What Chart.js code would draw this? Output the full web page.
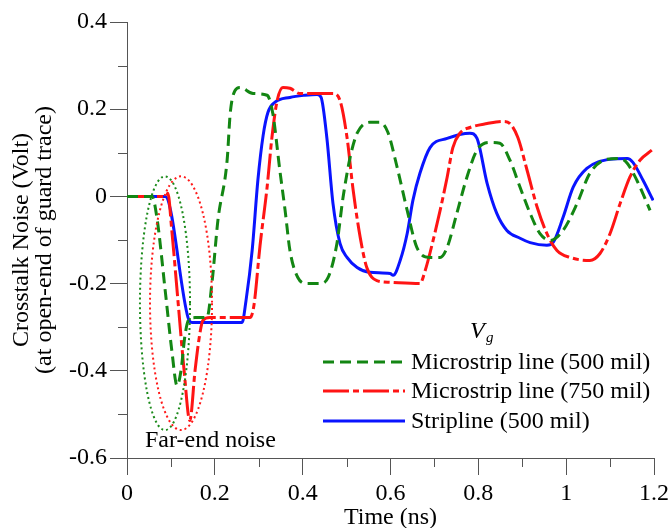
<!DOCTYPE html>
<html>
<head>
<meta charset="utf-8">
<script src="https://cdn.jsdelivr.net/npm/chart.js@4.4.1/dist/chart.umd.min.js"></script>
<style>
  html, body { margin: 0; padding: 0; background: #ffffff; }
  #wrap { width: 670px; height: 528px; position: relative; }
</style>
</head>
<body>
<div id="wrap"><canvas id="c" width="670" height="528"></canvas></div>
<script>
// Crosstalk noise at the open end of the guard trace (volts vs. ns)

// Microstrip line, 500 mil guard trace
const ms500Time = [0, 0.057, 0.068, 0.087, 0.102, 0.114, 0.123, 0.132, 0.141, 0.155, 0.182, 0.194, 0.207, 0.228, 0.235, 0.246, 0.257, 0.287, 0.319, 0.332, 0.348, 0.360, 0.371, 0.389, 0.410, 0.439, 0.458, 0.478, 0.492, 0.508, 0.524, 0.553, 0.576, 0.594, 0.615, 0.638, 0.660, 0.690, 0.713, 0.729, 0.751, 0.774, 0.797, 0.827, 0.849, 0.872, 0.895, 0.918, 0.940, 0.963, 0.993, 1.025, 1.054, 1.093, 1.123, 1.139, 1.161, 1.191];
const ms500Volt = [0, 0, -0.048, -0.216, -0.353, -0.434, -0.399, -0.319, -0.282, -0.278, -0.278, -0.193, -0.055, 0.083, 0.190, 0.243, 0.250, 0.236, 0.232, 0.190, 0.060, -0.032, -0.124, -0.186, -0.200, -0.200, -0.186, -0.108, -0.002, 0.089, 0.145, 0.170, 0.170, 0.147, 0.067, -0.032, -0.117, -0.140, -0.140, -0.117, -0.039, 0.044, 0.106, 0.124, 0.122, 0.083, 0.021, -0.039, -0.085, -0.101, -0.078, -0.016, 0.053, 0.085, 0.087, 0.076, 0.037, -0.032];

// Microstrip line, 750 mil guard trace
const ms750Time = [0, 0.089, 0.093, 0.102, 0.116, 0.130, 0.143, 0.155, 0.166, 0.173, 0.189, 0.280, 0.289, 0.303, 0.319, 0.330, 0.342, 0.355, 0.371, 0.394, 0.469, 0.485, 0.501, 0.515, 0.531, 0.546, 0.569, 0.599, 0.667, 0.679, 0.697, 0.713, 0.729, 0.742, 0.758, 0.781, 0.820, 0.856, 0.872, 0.890, 0.911, 0.934, 0.956, 0.979, 1.009, 1.054, 1.077, 1.100, 1.123, 1.145, 1.168, 1.195];
const ms750Volt = [0, 0, 0.007, -0.078, -0.239, -0.399, -0.514, -0.399, -0.314, -0.284, -0.278, -0.278, -0.250, -0.112, 0.021, 0.135, 0.220, 0.250, 0.248, 0.236, 0.236, 0.220, 0.135, 0.014, -0.094, -0.163, -0.193, -0.197, -0.200, -0.170, -0.101, -0.032, 0.044, 0.112, 0.145, 0.158, 0.167, 0.172, 0.167, 0.135, 0.060, -0.025, -0.085, -0.124, -0.140, -0.147, -0.131, -0.085, -0.016, 0.044, 0.083, 0.106];

// Stripline, 500 mil guard trace
const stripTime = [0, 0.087, 0.139, 0.148, 0.262, 0.271, 0.285, 0.298, 0.310, 0.321, 0.337, 0.371, 0.405, 0.433, 0.442, 0.455, 0.469, 0.485, 0.501, 0.524, 0.553, 0.599, 0.606, 0.622, 0.638, 0.651, 0.667, 0.690, 0.729, 0.781, 0.797, 0.820, 0.842, 0.865, 0.895, 0.918, 0.956, 0.970, 0.993, 1.016, 1.047, 1.100, 1.139, 1.152, 1.175, 1.198];
const stripVolt = [0, 0, -0.278, -0.289, -0.289, -0.239, -0.124, 0.037, 0.140, 0.193, 0.216, 0.227, 0.232, 0.234, 0.227, 0.135, -0.016, -0.108, -0.140, -0.163, -0.174, -0.177, -0.181, -0.147, -0.085, -0.009, 0.053, 0.112, 0.133, 0.145, 0.133, 0.030, -0.039, -0.078, -0.096, -0.106, -0.112, -0.106, -0.048, 0.021, 0.064, 0.085, 0.087, 0.078, 0.037, -0.009];

const seriesNames = ['Microstrip line (500 mil)', 'Microstrip line (750 mil)', 'Stripline (500 mil)'];

// Axis ticks (major ones carry labels)
const xMajorTicks = [0, 0.2, 0.4, 0.6, 0.8, 1, 1.2];
const xMinorTicks = [0.1, 0.3, 0.5, 0.7, 0.9, 1.1];
const yMajorTicks = [-0.6, -0.4, -0.2, 0, 0.2, 0.4];
const yMinorTicks = [-0.5, -0.3, -0.1, 0.1, 0.3];
const xTickLabels = ['0', '0.2', '0.4', '0.6', '0.8', '1', '1.2'];
const yTickLabels = ['-0.6', '-0.4', '-0.2', '0', '0.2', '0.4'];

// Far-end noise regions marked with dotted ellipses (data units)
const farEndRings = [
  { t: 0.0865, v: -0.245, rt: 0.057, rv: 0.291, color: '#1a8a1a' },
  { t: 0.123,  v: -0.245, rt: 0.0706, rv: 0.291, color: '#ff1a1a' }
];

const FONT = "'Liberation Serif', 'Times New Roman', serif";
const AXIS_COLOR = '#555555';

function zip(ts, vs) { return ts.map((t, i) => ({ x: t, y: vs[i] })); }

const styles = [
  { color: '#138613', dash: [11, 6] },
  { color: '#ff1414', dash: [26, 4, 6, 4] },
  { color: '#0a14ff', dash: [] }
];

const datasets = [
  zip(ms500Time, ms500Volt),
  zip(ms750Time, ms750Volt),
  zip(stripTime, stripVolt)
].map((pts, i) => ({
  label: seriesNames[i],
  data: pts,
  borderColor: styles[i].color,
  borderDash: styles[i].dash,
  borderWidth: 3,
  pointRadius: 0,
  fill: false,
  cubicInterpolationMode: 'monotone'
}));

function labelFor(list, labels, v) {
  const idx = list.findIndex(m => Math.abs(m - v) < 1e-6);
  return idx >= 0 ? labels[idx] : '';
}

const decor = {
  id: 'decor',
  afterDatasetsDraw(chart) {
    const { ctx, scales: { x, y } } = chart;
    ctx.save();
    farEndRings.forEach(r => {
      const cx = x.getPixelForValue(r.t);
      const cy = y.getPixelForValue(r.v);
      const rx = Math.abs(x.getPixelForValue(r.t + r.rt) - cx);
      const ry = Math.abs(y.getPixelForValue(r.v + r.rv) - cy);
      ctx.beginPath();
      ctx.ellipse(cx, cy, rx, ry, 0, 0, Math.PI * 2);
      ctx.strokeStyle = r.color;
      ctx.lineWidth = 2;
      ctx.setLineDash([2, 3]);
      ctx.stroke();
    });
    ctx.restore();
  },
  afterDraw(chart) {
    const { ctx, scales: { x, y }, chartArea } = chart;
    ctx.save();
    // minor ticks
    ctx.strokeStyle = AXIS_COLOR;
    ctx.lineWidth = 1;
    ctx.setLineDash([]);
    ctx.beginPath();
    yMinorTicks.forEach(v => {
      const py = Math.round(y.getPixelForValue(v)) + 0.5;
      ctx.moveTo(chartArea.left - 9, py);
      ctx.lineTo(chartArea.left, py);
    });
    xMinorTicks.forEach(t => {
      const px = Math.round(x.getPixelForValue(t)) + 0.5;
      ctx.moveTo(px, chartArea.bottom);
      ctx.lineTo(px, chartArea.bottom + 9);
    });
    ctx.stroke();

    // legend
    ctx.fillStyle = '#000';
    ctx.textBaseline = 'middle';
    ctx.font = `italic 24px ${FONT}`;
    ctx.fillText('V', 470, 332);
    ctx.font = `italic 15px ${FONT}`;
    ctx.fillText('g', 486, 338);

    const rowY = [362, 391, 421];
    chart.data.datasets.forEach((ds, i) => {
      ctx.beginPath();
      ctx.strokeStyle = ds.borderColor;
      ctx.lineWidth = 3;
      ctx.setLineDash(ds.borderDash);
      ctx.moveTo(323, rowY[i]);
      ctx.lineTo(405, rowY[i]);
      ctx.stroke();
      ctx.setLineDash([]);
      ctx.font = `24px ${FONT}`;
      ctx.fillStyle = '#000';
      ctx.fillText(ds.label, 411, rowY[i] + 1);
    });

    ctx.font = `24px ${FONT}`;
    ctx.fillText('Far-end noise', 145, 441);
    ctx.restore();
  }
};

new Chart(document.getElementById('c'), {
  type: 'line',
  data: { datasets },
  plugins: [decor],
  options: {
    responsive: false,
    animation: false,
    devicePixelRatio: 1,
    layout: { padding: { left: 0, right: 16, top: 22, bottom: 0 } },
    plugins: { legend: { display: false }, tooltip: { enabled: false } },
    scales: {
      x: {
        type: 'linear',
        min: 0, max: 1.2,
        afterFit(scale) { scale.height = 70; scale.paddingLeft = 0; scale.paddingRight = 0; },
        afterBuildTicks(scale) { scale.ticks = xMajorTicks.map(v => ({ value: v })); },
        ticks: {
          autoSkip: false, maxRotation: 0, padding: 4,
          color: '#000', font: { family: FONT, size: 24 },
          callback: v => labelFor(xMajorTicks, xTickLabels, v)
        },
        grid: { display: true, drawOnChartArea: false, drawTicks: true, tickLength: 17, tickColor: AXIS_COLOR, tickWidth: 1 },
        border: { display: true, color: AXIS_COLOR, width: 1 },
        title: { display: true, text: 'Time (ns)', color: '#000', font: { family: FONT, size: 24, lineHeight: 0.85 }, padding: 0 }
      },
      y: {
        type: 'linear',
        min: -0.6, max: 0.4,
        afterFit(scale) { scale.width = 127; scale.paddingTop = 0; scale.paddingBottom = 0; },
        afterBuildTicks(scale) { scale.ticks = yMajorTicks.map(v => ({ value: v })); },
        ticks: {
          autoSkip: false, padding: 3,
          color: '#000', font: { family: FONT, size: 24 },
          callback: v => labelFor(yMajorTicks, yTickLabels, v)
        },
        grid: { display: true, drawOnChartArea: false, drawTicks: true, tickLength: 17, tickColor: AXIS_COLOR, tickWidth: 1 },
        border: { display: true, color: AXIS_COLOR, width: 1 },
        title: {
          display: true,
          text: ['Crosstalk Noise (Volt)', '(at open-end of guard trace)'],
          color: '#000',
          font: { family: FONT, size: 24, lineHeight: 0.96 },
          padding: { top: 10, bottom: 0 }
        }
      }
    }
  }
});
</script>
</body>
</html>
